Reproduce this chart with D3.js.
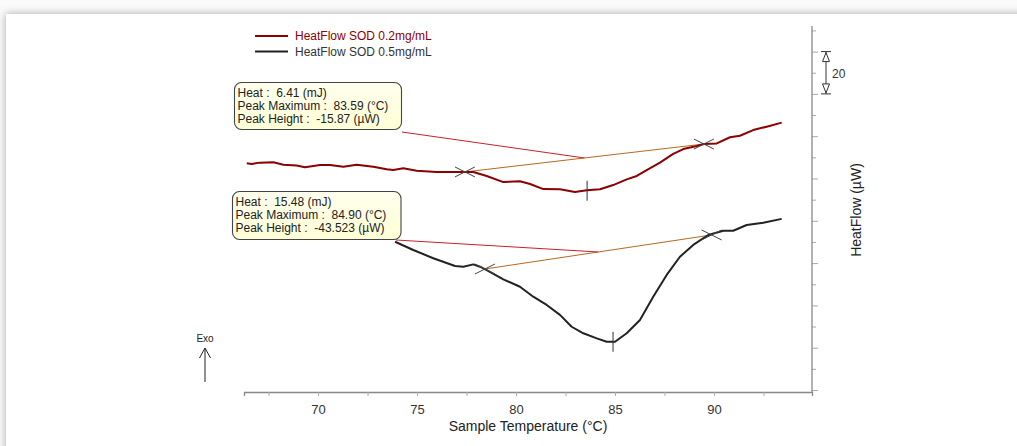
<!DOCTYPE html>
<html>
<head>
<meta charset="utf-8">
<script src="https://cdn.jsdelivr.net/npm/d3@7/dist/d3.min.js"></script>
<style>
  html, body { margin: 0; padding: 0; background: #ffffff; }
  svg { display: block; font-family: "Liberation Sans", Arial, sans-serif; }
</style>
</head>
<body>
<svg id="chart" width="1017" height="446"></svg>
<script>
// ---------- DATA ----------
const seriesNames = ["HeatFlow SOD 0.2mg/mL", "HeatFlow SOD 0.5mg/mL"];
const seriesColors = ["#8b0000", "#222222"];

// Sample temperature (°C) and heat flow (µW, arbitrary offset)
const redTemp = [66.40,66.65,67.07,67.74,68.25,68.92,69.34,70.10,70.61,71.28,71.95,72.79,73.47,73.80,74.31,74.98,75.99,76.83,77.42,77.84,78.52,79.36,80.20,80.71,81.38,82.22,82.98,83.57,84.24,84.91,85.59,86.10,86.60,87.27,87.94,88.45,89.13,89.49,90.14,90.81,91.31,91.98,92.66,93.42];
const redFlow = [107.2,106.9,107.5,107.7,106.5,106.1,105.3,106.4,106.4,105.6,106.5,105.6,104.4,104.0,104.8,103.7,103.1,103.1,103.1,103.1,101.2,98.3,98.7,97.4,95.0,94.9,93.6,94.4,94.9,96.9,99.6,101.2,104.0,107.5,111.6,113.9,115.4,116.3,116.6,119.5,120.2,122.9,124.5,126.4];

const blackTemp = [73.89,74.81,75.82,76.92,77.34,77.84,78.18,78.52,79.36,80.20,80.87,81.55,82.22,82.81,83.40,84.08,84.58,85.00,85.59,86.26,86.93,87.61,88.28,88.95,89.71,90.47,90.97,91.65,92.49,93.42];
const blackFlow = [70.1,66.2,62.3,58.6,58.3,59.4,58.3,56.7,52.3,48.8,44.1,40.2,35.5,29.9,26.8,24.4,22.8,22.8,26.8,33.1,44.1,54.4,63.0,68.6,73.3,75.3,75.3,78.0,79.1,80.9];

// Integration baselines (start/end temperature and heat flow) and peak temperatures
const redBaseline = [[77.42, 103.1], [89.49, 116.3]];
const blackBaseline = [[78.43, 57.2], [89.88, 73.3]];
const peakTemps = [83.59, 84.90];
const peakFlows = [94.2, 22.8];

// Annotation texts
const redNotes = ["Heat :  6.41 (mJ)", "Peak Maximum :  83.59 (°C)", "Peak Height :  -15.87 (µW)"];
const blackNotes = ["Heat :  15.48 (mJ)", "Peak Maximum :  84.90 (°C)", "Peak Height :  -43.523 (µW)"];

// Axes
const xTickValues = [67.5,70,72.5,75,77.5,80,82.5,85,87.5,90,92.5];
const xTickLabels = [70, 75, 80, 85, 90];
const yTickValues = [0,10,20,30,40,50,60,70,80,90,100,110,120,130,140,150,160,170];
const scaleBar = [140, 160];
const scaleBarLabel = "20";
const xTitle = "Sample Temperature (°C)";
const yTitle = "HeatFlow (µW)";

// ---------- DRAW ----------
const svg = d3.select("#chart");
const defs = svg.append("defs");

// panel shadow
const f = defs.append("filter").attr("id", "shadow").attr("x", "-5%").attr("y", "-10%").attr("width", "110%").attr("height", "120%");
f.append("feDropShadow").attr("dx", 0).attr("dy", 0).attr("stdDeviation", 4).attr("flood-color", "#000").attr("flood-opacity", 0.35);
svg.append("rect").attr("x", 0).attr("y", 0).attr("width", 1017).attr("height", 446).attr("fill", "#fbfbfb");
svg.append("rect").attr("x", 6).attr("y", 14).attr("width", 1060).attr("height", 480).attr("fill", "#fff").attr("filter", "url(#shadow)");

const boxGrad = defs.append("linearGradient").attr("id", "boxg").attr("x1", 0).attr("y1", 0).attr("x2", 0).attr("y2", 1);
boxGrad.append("stop").attr("offset", "0%").attr("stop-color", "#ffffee");
boxGrad.append("stop").attr("offset", "100%").attr("stop-color", "#ffffd6");

const x = d3.scaleLinear().domain([66.26, 94.95]).range([244, 812]);
const y = d3.scaleLinear().domain([-0.95, 172.1]).range([392, 26]);

// bottom axis
const xAxis = d3.axisBottom(x).tickValues(xTickValues).tickSize(4).tickPadding(9)
  .tickFormat(d => xTickLabels.includes(d) ? d : "");
const gx = svg.append("g").attr("transform", "translate(0,392)").call(xAxis);
gx.select(".domain").attr("stroke", "#888").attr("stroke-width", 1.3);
gx.selectAll(".tick line").attr("stroke", "#aaa");
gx.selectAll(".tick text").attr("font-size", 13).attr("fill", "#333").attr("font-family", "Liberation Sans, Arial, sans-serif");

svg.append("text").attr("x", 528).attr("y", 431).attr("text-anchor", "middle")
  .attr("font-size", 14).attr("fill", "#222").text(xTitle);

// right axis
const yAxis = d3.axisRight(y).tickValues(yTickValues).tickSize(5).tickFormat("");
const gy = svg.append("g").attr("transform", "translate(812,0)").call(yAxis);
gy.select(".domain").remove();
gy.selectAll(".tick line").attr("stroke", "#aaa").attr("x2", d => d % 20 === 0 ? 6 : 4);
svg.append("line").attr("x1", 812).attr("x2", 812).attr("y1", 26).attr("y2", 392)
  .attr("stroke", "#888").attr("stroke-width", 1.3);

svg.append("text").attr("transform", "translate(861,210) rotate(-90)").attr("text-anchor", "middle")
  .attr("font-size", 14).attr("fill", "#222").text(yTitle);

// scale bar
const sbx = 826;
const sTop = y(scaleBar[1]), sBot = y(scaleBar[0]);
const sb = svg.append("g").attr("stroke", "#333").attr("stroke-width", 1).attr("fill", "#fff");
sb.append("line").attr("x1", sbx).attr("x2", sbx).attr("y1", sTop).attr("y2", sBot);
sb.append("line").attr("x1", sbx - 5).attr("x2", sbx + 5).attr("y1", sTop).attr("y2", sTop);
sb.append("line").attr("x1", sbx - 5).attr("x2", sbx + 5).attr("y1", sBot).attr("y2", sBot);
sb.append("path").attr("d", `M${sbx},${sTop + 1}L${sbx - 3.5},${sTop + 10}L${sbx + 3.5},${sTop + 10}Z`);
sb.append("path").attr("d", `M${sbx},${sBot - 1}L${sbx - 3.5},${sBot - 10}L${sbx + 3.5},${sBot - 10}Z`);
svg.append("text").attr("x", sbx + 6).attr("y", (sTop + sBot) / 2 + 5).attr("font-size", 12).attr("fill", "#333").text(scaleBarLabel);

// legend
const leg = svg.append("g");
seriesNames.forEach((n, i) => {
  const ly = 36 + i * 15.5;
  leg.append("line").attr("x1", 255).attr("x2", 288).attr("y1", ly).attr("y2", ly)
    .attr("stroke", seriesColors[i]).attr("stroke-width", 2);
  leg.append("text").attr("x", 295).attr("y", ly + 4).attr("font-size", 12)
    .attr("fill", i === 0 ? "#8b0000" : "#333").text(n);
});

// baselines and leaders
function drawBaseline(bl, boxCorner) {
  svg.append("line").attr("x1", x(bl[0][0])).attr("y1", y(bl[0][1]))
    .attr("x2", x(bl[1][0])).attr("y2", y(bl[1][1]))
    .attr("stroke", "#b8681e").attr("stroke-width", 1);
  const mx = x((bl[0][0] + bl[1][0]) / 2), my = y((bl[0][1] + bl[1][1]) / 2);
  svg.append("line").attr("x1", boxCorner[0]).attr("y1", boxCorner[1]).attr("x2", mx).attr("y2", my)
    .attr("stroke", "#c8202a").attr("stroke-width", 1);
}
drawBaseline(redBaseline, [402, 132]);
drawBaseline(blackBaseline, [396, 240]);

// curves
const line = d3.line().x(d => x(d[0])).y(d => y(d[1]));
const redData = redTemp.map((t, i) => [t, redFlow[i]]);
const blackData = blackTemp.map((t, i) => [t, blackFlow[i]]);
svg.append("path").datum(redData).attr("d", line).attr("fill", "none")
  .attr("stroke", seriesColors[0]).attr("stroke-width", 2).attr("stroke-linejoin", "round");
svg.append("path").datum(blackData).attr("d", line).attr("fill", "none")
  .attr("stroke", seriesColors[1]).attr("stroke-width", 2).attr("stroke-linejoin", "round");

// cross markers at baseline limits
function cross(px, py) {
  svg.append("path").attr("d", `M${px - 10},${py - 5}L${px + 10},${py + 5}M${px - 10},${py + 5}L${px + 10},${py - 5}`)
    .attr("stroke", "#444").attr("stroke-width", 1).attr("fill", "none");
}
[redBaseline, blackBaseline].forEach(bl => bl.forEach(p => cross(x(p[0]), y(p[1]))));

// peak markers
peakTemps.forEach((t, i) => {
  const px = x(t), py = y(peakFlows[i]);
  svg.append("line").attr("x1", px).attr("x2", px).attr("y1", py - 10).attr("y2", py + 10)
    .attr("stroke", "#333").attr("stroke-width", 1);
});

// annotation boxes
function note(bx, by, bw, bh, lines) {
  svg.append("rect").attr("x", bx).attr("y", by).attr("width", bw).attr("height", bh)
    .attr("rx", 7).attr("fill", "url(#boxg)").attr("stroke", "#444").attr("stroke-width", 1.1);
  lines.forEach((l, i) => {
    svg.append("text").attr("x", bx + 3).attr("y", by + 14.5 + i * 13).attr("font-size", 12)
      .attr("fill", "#222").attr("xml:space", "preserve").style("white-space", "pre").text(l);
  });
}
note(234.5, 82.5, 167, 47, redNotes);
note(232.5, 191.5, 168.5, 48, blackNotes);

// Exo arrow
svg.append("text").attr("x", 205).attr("y", 342).attr("text-anchor", "middle")
  .attr("font-size", 10).attr("fill", "#222").text("Exo");
svg.append("path").attr("d", "M205,382L205,348M199.5,358L205,348L210.5,358")
  .attr("stroke", "#222").attr("stroke-width", 1).attr("fill", "none");
</script>
</body>
</html>
